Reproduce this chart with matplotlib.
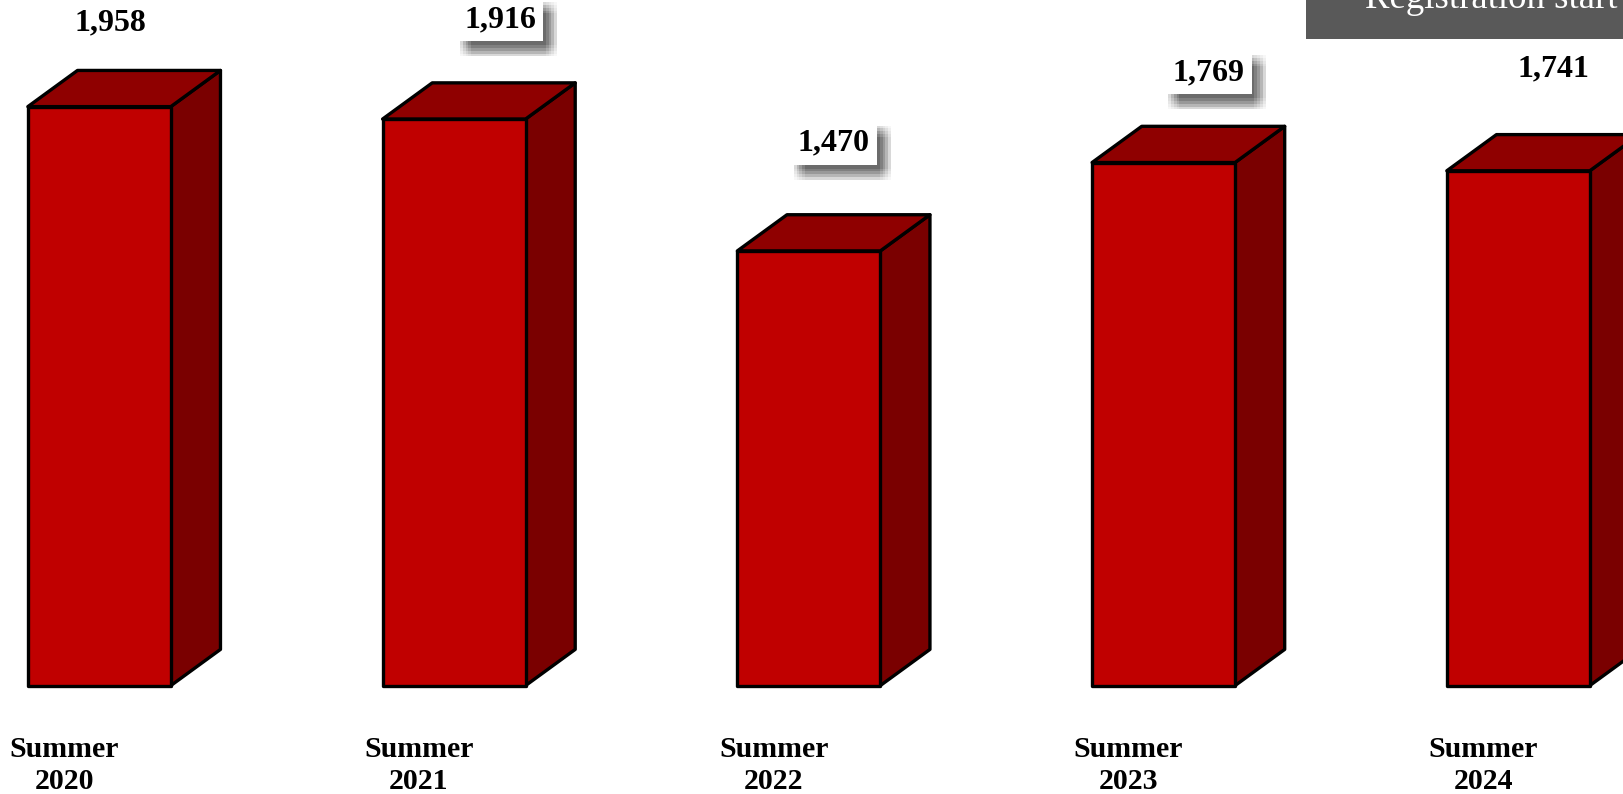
import matplotlib.pyplot as plt
from matplotlib.patches import Polygon, Rectangle
from matplotlib import patheffects

categories = ["Summer\n2020", "Summer\n2021", "Summer\n2022", "Summer\n2023", "Summer\n2024"]
values = [1958, 1916, 1470, 1769, 1741]
value_labels = ["1,958", "1,916", "1,470", "1,769", "1,741"]
label_boxed = [False, True, True, True, False]

# label placement relative to each bar (x in category units, y in value units)
label_dx = [0.032, 0.130, 0.071, 0.127, 0.100]
label_dy = [283, 336, 365, 304, 346]

front_color = "#c00000"
top_color = "#8f0000"
side_color = "#7a0000"

bar_w = 0.403
depth_x = 0.140
depth_y = 122.4

fig = plt.figure(figsize=(16.24, 7.94), dpi=100)
ax = fig.add_axes([0, 0, 1, 1])
ax.set_xlim(-0.280, 4.298)
ax.set_ylim(-366.6, 2318.6)
ax.axis("off")

for i, v in enumerate(values):
    x0 = i - bar_w / 2
    x1 = i + bar_w / 2
    front = Polygon([(x0, 0), (x1, 0), (x1, v), (x0, v)], closed=True,
                    facecolor=front_color, edgecolor="black", lw=2.4, joinstyle="round", zorder=3)
    top = Polygon([(x0, v), (x1, v), (x1 + depth_x, v + depth_y), (x0 + depth_x, v + depth_y)], closed=True,
                  facecolor=top_color, edgecolor="black", lw=2.4, joinstyle="round", zorder=2)
    side = Polygon([(x1, 0), (x1 + depth_x, depth_y), (x1 + depth_x, v + depth_y), (x1, v)], closed=True,
                   facecolor=side_color, edgecolor="black", lw=2.4, joinstyle="round", zorder=2)
    for p in (side, top, front):
        ax.add_patch(p)

    t = ax.text(i + label_dx[i], v + label_dy[i], value_labels[i], ha="center", va="center",
                fontsize=23, fontweight="bold", family="Liberation Serif", zorder=5)
    if label_boxed[i]:
        t.set_bbox(dict(boxstyle="square,pad=0.22", facecolor="white", edgecolor="none"))
        # soft drop shadow built from several faint offset copies
        shadows = [patheffects.withSimplePatchShadow(offset=(6 + dx, -7 + dy), shadow_rgbFace="black", alpha=0.03)
                   for dx in (-4, -2, 0, 2, 4) for dy in (-4, -2, 0, 2, 4)]
        t.get_bbox_patch().set_path_effects(shadows + [patheffects.Normal()])

    ax.text(i - 0.099, -270, categories[i], ha="center", va="center", fontsize=21.5,
            fontweight="bold", family="Liberation Serif", linespacing=1.25)

# header box in the top-right corner
fig.patches.append(Rectangle((0.804, 0.951), 0.2, 0.06, transform=fig.transFigure,
                             facecolor="#595959", edgecolor="none"))
fig.text(0.8405, 0.9905, "Registration start", color="white", fontsize=26.5,
         family="Liberation Serif", ha="left", va="baseline")

fig.savefig("out.png", dpi=100)
